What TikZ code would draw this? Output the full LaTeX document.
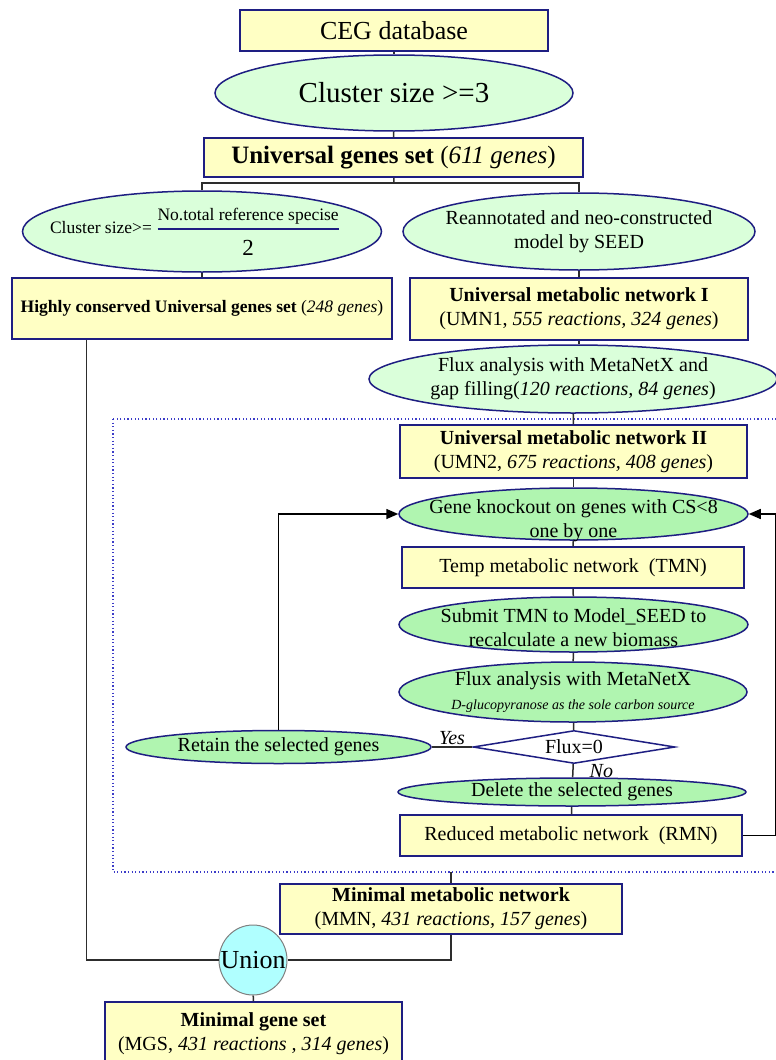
\documentclass[tikz,border=0pt]{standalone}
\usepackage{fontspec}
\setmainfont{Liberation Serif}[ItalicFont={Liberation Serif Italic}, BoldFont={Liberation Serif Bold}, BoldItalicFont={Liberation Serif Bold Italic}]
\usetikzlibrary{shapes.geometric, arrows.meta, positioning, calc}
\definecolor{cnavy}{RGB}{30,30,130}
\definecolor{cyellow}{RGB}{255,255,196}
\definecolor{cpale}{RGB}{218,255,218}
\definecolor{cgreen}{RGB}{176,245,176}
\definecolor{ccyan}{RGB}{176,255,255}
\definecolor{cline}{RGB}{45,45,45}
\definecolor{cdot}{RGB}{60,60,200}

\begin{document}
\begin{tikzpicture}[x=1pt, y=-1pt,
    box/.style={draw=cnavy, fill=cyellow, line width=1.5pt, inner sep=2pt, align=center, font=\fontsize{20}{24}\selectfont},
    oval/.style={ellipse, draw=cnavy, fill=#1, line width=1.5pt, inner sep=-40pt, align=center, font=\fontsize{20}{24}\selectfont},
    oval/.default=cpale,
    decision/.style={diamond, draw=cnavy, fill=white, line width=1.5pt, shape aspect=6, inner sep=0pt, font=\fontsize{20}{24}\selectfont},
    link/.style={draw=cline, line width=1.5pt},
    back/.style={draw=black, line width=1.5pt, -{Triangle[length=12pt,width=10pt]}},
    tag/.style={font=\fontsize{20}{24}\selectfont\itshape, inner sep=2pt},
    dotbox/.style={draw=cdot, line width=1.2pt, dash pattern=on 1.2pt off 2.4pt},
]
\useasboundingbox (0,0) rectangle (776,1060);
\clip (0,0) rectangle (776,1060);
\fill[white] (0,0) rectangle (776,1060);

% loop region
\draw[dotbox] (113,419) rectangle (800,872);

\node[box, minimum width=308pt, minimum height=41pt, font=\fontsize{26}{30}\selectfont] (ceg) at (394,30.5) {CEG database};
\node[oval, minimum width=358pt, minimum height=76pt, font=\fontsize{29}{34}\selectfont] (cluster) at (394,93) {Cluster size >=3};
\node[box, minimum width=379pt, minimum height=39pt, font=\fontsize{25}{30}\selectfont] (ugs) at (393.5,157.5) {\textbf{Universal genes set} (\textit{611 genes})};
\coordinate (split) at (394,183);

% two branches
\node[oval, minimum width=359pt, minimum height=81pt, font=\fontsize{17.5}{21}\selectfont] (csfrac) at (202,231.5)
    {Cluster size>= \textcolor{cnavy}{$\displaystyle{\mbox{\color{black}No.total reference specise}\above1.5pt\mbox{\color{black}\raisebox{-10pt}{\fontsize{23}{26}\selectfont 2}}}$}\rule{14pt}{0pt}};
\node[oval, minimum width=352pt, minimum height=77pt] (seed) at (579,231.5) {Reannotated and neo-constructed\\model by SEED};
\node[box, minimum width=380pt, minimum height=61pt, font=\fontsize{17.5}{21}\selectfont] (hcset) at (202,308.5) {\textbf{Highly conserved Universal genes set} (\textit{248 genes})};
\node[box, minimum width=338pt, minimum height=62pt] (umnone) at (579,309) {\textbf{Universal metabolic network I}\\(UMN1, \textit{555 reactions, 324 genes})};
\node[oval, minimum width=408pt, minimum height=68pt] (gapfill) at (573,379) {Flux analysis with MetaNetX and\\gap filling(\textit{120 reactions, 84 genes})};

% reduction loop
\node[box, minimum width=347pt, minimum height=53pt] (umntwo) at (573.5,451.5) {\textbf{Universal metabolic network II}\\(UMN2, \textit{675 reactions, 408 genes})};
\node[oval=cgreen, minimum width=349pt, minimum height=52pt, text height=51pt] (knockout) at (573.5,514) {Gene knockout on genes with CS<8\\one by one};
\node[box, minimum width=342pt, minimum height=41pt] (tmn) at (573,567.5) {Temp metabolic network~~(TMN)};
\node[oval=cgreen, minimum width=349pt, minimum height=55pt, text height=45pt] (submit) at (573.5,624.5) {Submit TMN to Model\_SEED to\\recalculate a new biomass};
\node[oval=cgreen, minimum width=348pt, minimum height=60pt] (fluxtest) at (573,692) {Flux analysis with MetaNetX\\{\fontsize{14}{16}\selectfont\itshape D-glucopyranose as the sole carbon source}};
\node[decision, minimum width=202pt, minimum height=33pt] (fluxzero) at (574,747) {Flux=0};
\node[oval=cgreen, minimum width=305pt, minimum height=33pt] (retain) at (278.5,747) {Retain the selected genes};
\node[oval=cgreen, minimum width=348pt, minimum height=28pt] (delete) at (572,792) {Delete the selected genes};
\node[box, minimum width=342pt, minimum height=41pt] (rmn) at (571,835.5) {Reduced metabolic network~~(RMN)};
\coordinate (loopout) at (451,872);

% merge
\node[box, minimum width=342pt, minimum height=50pt] (mmn) at (451,909) {\textbf{Minimal metabolic network}\\(MMN, \textit{431 reactions, 157 genes})};
\node[ellipse, draw=gray, fill=ccyan, line width=1pt, minimum width=68pt, minimum height=70pt, inner sep=-40pt, font=\fontsize{26}{30}\selectfont] (union) at (253,960) {Union};
\node[box, minimum width=297pt, minimum height=64pt] (mgs) at (253.5,1034) {\textbf{Minimal gene set}\\(MGS, \textit{431 reactions , 314 genes})};

\draw[link] (ceg) -- (cluster);
\draw[link] (cluster) -- (ugs);
\draw[link] (ugs) -- (split);
\draw[link] (csfrac.north) |- (split) -| (seed.north);
\draw[link] (csfrac) -- (hcset);
\draw[link] (seed) -- (umnone);
\draw[link] (umnone.south) -- (umnone.south |- gapfill.north);
\draw[link] (gapfill) -- (umntwo);
\draw[link] (umntwo) -- (knockout);
\draw[link] (knockout) -- (tmn);
\draw[link] (tmn) -- (submit);
\draw[link] (submit) -- (fluxtest);
\draw[link] (fluxtest) -- (fluxzero);
\draw[link] (retain) -- node[tag, above] {Yes} (fluxzero);
\draw[link] (fluxzero) -- node[tag, right, xshift=14pt] {No} (delete);
\draw[link] (delete) -- (rmn);
\draw[back] (retain.north) |- (knockout.west);
\draw[back] (rmn.east) -- ++(33,0) |- (knockout.east);
\draw[link] (loopout) -- (mmn);
\draw[link] (mmn) |- (union);
\draw[link] ([xshift=75pt]hcset.south west) |- (union);
\draw[link] (union) -- (mgs);

\end{tikzpicture}
\end{document}
